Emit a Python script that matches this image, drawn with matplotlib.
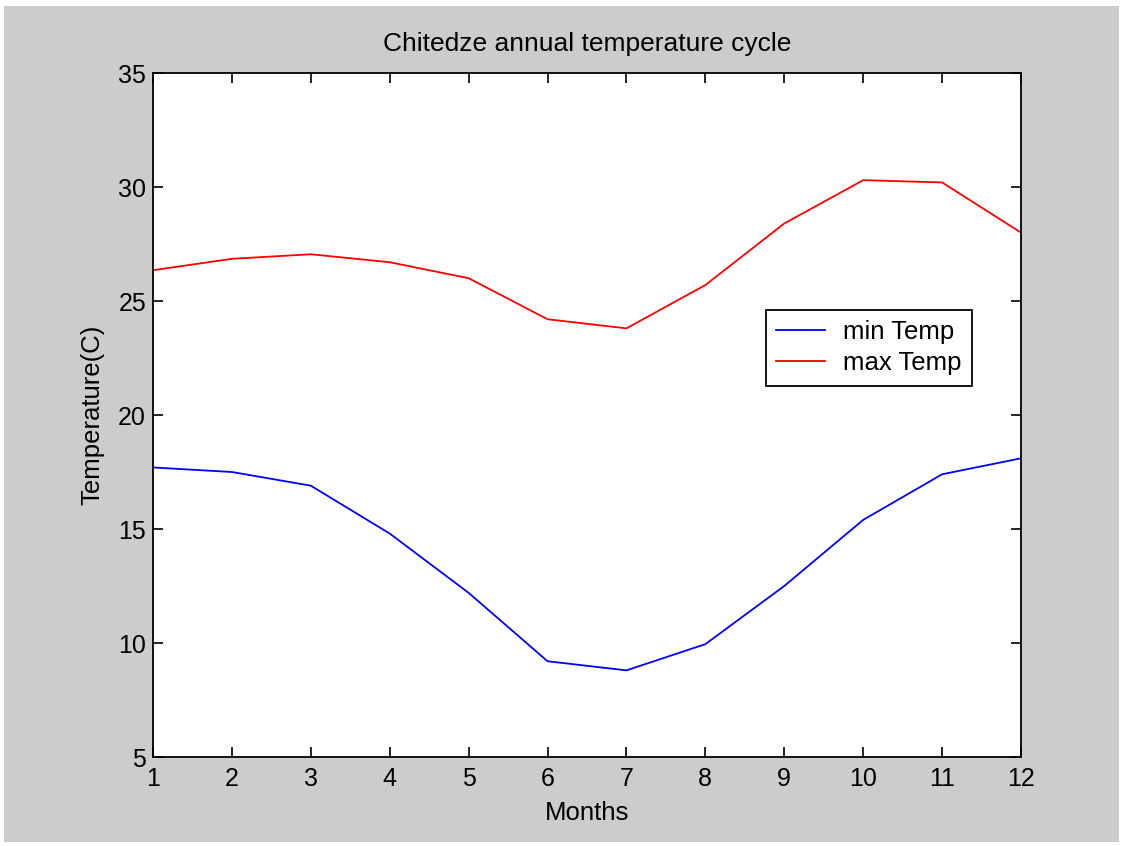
import matplotlib
matplotlib.use("Agg")
import matplotlib.pyplot as plt
from matplotlib.patches import Rectangle

months = [1, 2, 3, 4, 5, 6, 7, 8, 9, 10, 11, 12]
min_temp = [17.7, 17.5, 16.9, 14.8, 12.2, 9.2, 8.8, 9.95, 12.5, 15.4, 17.4, 18.1]
max_temp = [26.35, 26.85, 27.05, 26.7, 26.0, 24.2, 23.8, 25.7, 28.4, 30.3, 30.2, 28.0]
x_ticks = list(range(1, 13))
y_ticks = [5, 10, 15, 20, 25, 30, 35]

plt.rcParams.update({
    "font.family": ["Liberation Sans", "DejaVu Sans"],
    "font.size": 18,
})

fig = plt.figure(figsize=(11.23, 8.46), dpi=100, facecolor="white")
# grey MATLAB figure window background, drawn behind the axes
fig.add_artist(Rectangle((4 / 1123, 4 / 846), 1115 / 1123, 836 / 846,
                         transform=fig.transFigure, facecolor="#cccccc",
                         edgecolor="none", zorder=-10))

ax = fig.add_axes([153 / 1123, 1 - 757 / 846, 868 / 1123, 684 / 846])
ax.set_zorder(5)
ax.plot(months, min_temp, color="#0000ff", linewidth=1.3, label="min Temp")
ax.plot(months, max_temp, color="#ff0000", linewidth=1.3, label="max Temp")

ax.set_xlim(1, 12)
ax.set_ylim(5, 35)
ax.set_xticks(x_ticks)
ax.set_yticks(y_ticks)
ax.tick_params(direction="in", length=7, width=1.2, top=True, right=True,
               labelsize=18)
ax.tick_params(axis="x", pad=7.5)
ax.tick_params(axis="y", pad=5)
for s in ax.spines.values():
    s.set_linewidth(1.3)

ax.set_title("Chitedze annual temperature cycle", fontsize=19, pad=15.5)
ax.set_xlabel("Months", fontsize=18.5, labelpad=7)
ax.set_ylabel("Temperature(C)", fontsize=18.5, labelpad=10)

leg = ax.legend(loc="upper left", bbox_to_anchor=(0.706, 0.6535), fancybox=False,
                framealpha=1, edgecolor="black", fontsize=18.5, handlelength=1.9,
                borderpad=0.4, labelspacing=0.28, handletextpad=0.7,
                borderaxespad=0)
leg.get_frame().set_linewidth(1.3)

fig.savefig("out.png", dpi=100, facecolor=fig.get_facecolor())
